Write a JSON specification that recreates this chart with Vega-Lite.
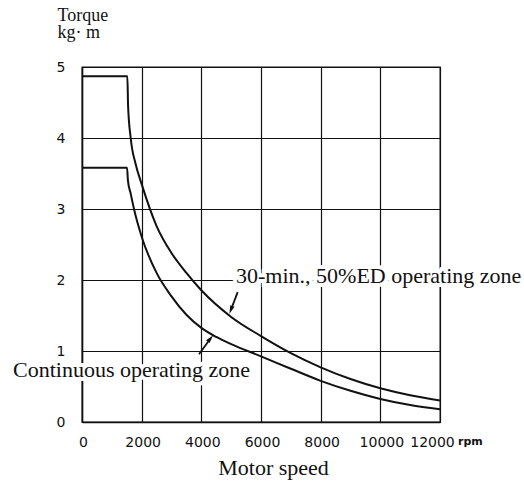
{
  "$schema": "https://vega.github.io/schema/vega-lite/v6.json",
  "width": 358,
  "height": 355,
  "autosize": {"type": "none"},
  "padding": {"left": 82, "top": 67, "right": 84, "bottom": 62},
  "background": "white",
  "config": {"view": {"stroke": "#111", "strokeWidth": 1.3}},
  "datasets": {
    "curves": [
      {"zone": "30-min", "rpm": 0, "torque": 4.87},
      {"zone": "30-min", "rpm": 1520, "torque": 4.87},
      {"zone": "30-min", "rpm": 1545, "torque": 4.45},
      {"zone": "30-min", "rpm": 1632, "torque": 4.0},
      {"zone": "30-min", "rpm": 1800, "torque": 3.63},
      {"zone": "30-min", "rpm": 2000, "torque": 3.35},
      {"zone": "30-min", "rpm": 2500, "torque": 2.76},
      {"zone": "30-min", "rpm": 3000, "torque": 2.38},
      {"zone": "30-min", "rpm": 3500, "torque": 2.1},
      {"zone": "30-min", "rpm": 4000, "torque": 1.855},
      {"zone": "30-min", "rpm": 5000, "torque": 1.48},
      {"zone": "30-min", "rpm": 6000, "torque": 1.21},
      {"zone": "30-min", "rpm": 7000, "torque": 0.97},
      {"zone": "30-min", "rpm": 8000, "torque": 0.77},
      {"zone": "30-min", "rpm": 9000, "torque": 0.605},
      {"zone": "30-min", "rpm": 10000, "torque": 0.475},
      {"zone": "30-min", "rpm": 11000, "torque": 0.377},
      {"zone": "30-min", "rpm": 12000, "torque": 0.304},
      {"zone": "continuous", "rpm": 0, "torque": 3.58},
      {"zone": "continuous", "rpm": 1510, "torque": 3.58},
      {"zone": "continuous", "rpm": 1540, "torque": 3.4},
      {"zone": "continuous", "rpm": 1630, "torque": 3.22},
      {"zone": "continuous", "rpm": 1743, "torque": 3.0},
      {"zone": "continuous", "rpm": 2000, "torque": 2.61},
      {"zone": "continuous", "rpm": 2500, "torque": 2.1},
      {"zone": "continuous", "rpm": 3000, "torque": 1.77},
      {"zone": "continuous", "rpm": 3500, "torque": 1.51},
      {"zone": "continuous", "rpm": 4000, "torque": 1.325},
      {"zone": "continuous", "rpm": 4500, "torque": 1.198},
      {"zone": "continuous", "rpm": 5000, "torque": 1.096},
      {"zone": "continuous", "rpm": 6000, "torque": 0.925},
      {"zone": "continuous", "rpm": 7000, "torque": 0.75},
      {"zone": "continuous", "rpm": 8000, "torque": 0.58},
      {"zone": "continuous", "rpm": 9000, "torque": 0.44},
      {"zone": "continuous", "rpm": 10000, "torque": 0.325},
      {"zone": "continuous", "rpm": 11000, "torque": 0.24},
      {"zone": "continuous", "rpm": 12000, "torque": 0.18}
    ],
    "notes": [
      {"rpm": 5162, "torque": 1.953, "label": "30-min., 50%ED operating zone"},
      {"rpm": -2313, "torque": 0.634, "label": "Continuous operating zone"}
    ],
    "arrows": [
      {"zone": "30-min", "rpm": 5218, "torque": 1.83, "rpm2": 4991, "torque2": 1.579},
      {"zone": "continuous", "rpm": 3922, "torque": 0.953, "rpm2": 4307, "torque2": 1.177}
    ],
    "heads": [
      {"zone": "30-min", "rpm": 4991, "torque": 1.579},
      {"zone": "continuous", "rpm": 4307, "torque": 1.177}
    ],
    "unit": [{"rpm": 12000, "torque": 0, "label": "rpm"}]
  },
  "encoding": {
    "x": {
      "field": "rpm",
      "type": "quantitative",
      "scale": {"domain": [0, 12000], "nice": false, "zero": false},
      "axis": {
        "values": [0, 2000, 4000, 6000, 8000, 10000, 12000],
        "format": "d",
        "title": "Motor speed",
        "grid": true,
        "gridColor": "#111",
        "gridWidth": 1.2,
        "gridOpacity": 1,
        "domainColor": "#111",
        "domainWidth": 1.5,
        "ticks": false,
        "labelPadding": 13,
        "labelFont": "DejaVu Sans",
        "labelFontSize": 14,
        "labelColor": "#111",
        "labelFlush": false,
        "labelOverlap": false,
        "labelOffset": {"condition": {"test": "datum.value == 12000", "value": -8}, "value": 1},
        "titleFont": "Liberation Serif",
        "titleFontSize": 22,
        "titleFontWeight": "normal",
        "titleColor": "#111",
        "titleX": 191,
        "titleY": 52,
        "titleAlign": "center",
        "titleBaseline": "alphabetic"
      }
    },
    "y": {
      "field": "torque",
      "type": "quantitative",
      "scale": {"domain": [0, 5], "nice": false},
      "axis": {
        "values": [0, 1, 2, 3, 4, 5],
        "format": "d",
        "title": ["Torque", "kg· m"],
        "grid": true,
        "gridColor": "#111",
        "gridWidth": 1.2,
        "gridOpacity": 1,
        "domainColor": "#111",
        "domainWidth": 1.5,
        "ticks": false,
        "labelPadding": 17,
        "labelFont": "DejaVu Sans",
        "labelFontSize": 14,
        "labelColor": "#111",
        "labelFlush": false,
        "labelOverlap": false,
        "titleFont": "Liberation Serif",
        "titleFontSize": 18,
        "titleFontWeight": "normal",
        "titleColor": "#111",
        "titleAngle": 0,
        "titleAlign": "left",
        "titleBaseline": "alphabetic",
        "titleLineHeight": 17,
        "titleX": -25,
        "titleY": -47
      }
    }
  },
  "layer": [
    {
      "data": {"name": "notes"},
      "mark": {"type": "text", "align": "left", "baseline": "alphabetic", "font": "Liberation Serif", "fontSize": 22, "fill": "white", "stroke": "white", "strokeWidth": 8},
      "encoding": {"text": {"field": "label"}}
    },
    {
      "data": {"name": "curves"},
      "mark": {"type": "line", "color": "#111", "strokeWidth": 2, "interpolate": "monotone"},
      "encoding": {"detail": {"field": "zone"}}
    },
    {
      "data": {"name": "arrows"},
      "mark": {"type": "rule", "color": "#111", "strokeWidth": 1.8},
      "encoding": {"x2": {"field": "rpm2"}, "y2": {"field": "torque2"}}
    },
    {
      "data": {"name": "heads"},
      "transform": [{"filter": "datum.zone == '30-min'"}],
      "mark": {"type": "point", "shape": "M0,-1L0.55,1L-0.55,1Z", "filled": true, "color": "#111", "opacity": 1, "size": 70, "angle": 201},
      "encoding": {}
    },
    {
      "data": {"name": "heads"},
      "transform": [{"filter": "datum.zone == 'continuous'"}],
      "mark": {"type": "point", "shape": "M0,-1L0.55,1L-0.55,1Z", "filled": true, "color": "#111", "opacity": 1, "size": 70, "angle": 40},
      "encoding": {}
    },
    {
      "data": {"name": "notes"},
      "mark": {"type": "text", "align": "left", "baseline": "alphabetic", "font": "Liberation Serif", "fontSize": 22, "color": "#111"},
      "encoding": {"text": {"field": "label"}}
    },
    {
      "data": {"name": "unit"},
      "mark": {"type": "text", "align": "left", "baseline": "middle", "dx": 18, "dy": 20, "font": "DejaVu Sans", "fontSize": 11, "fontWeight": "bold", "color": "#111"},
      "encoding": {"text": {"field": "label"}}
    }
  ]
}
